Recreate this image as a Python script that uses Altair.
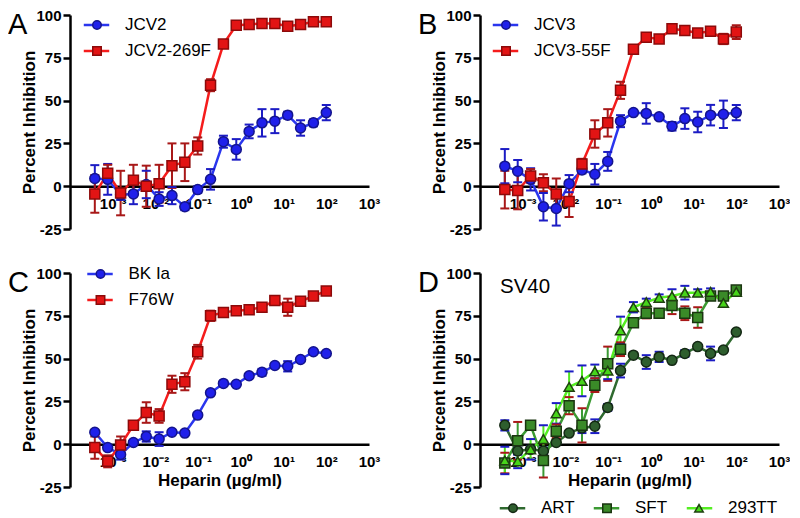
import altair as alt
import pandas as pd

FONT = "Liberation Sans"

# Heparin concentrations (ug/ml), two-fold dilutions, ascending
CONC = [0.000381, 0.000763, 0.00153, 0.00305, 0.0061, 0.0122, 0.0244, 0.0488,
        0.0977, 0.195, 0.391, 0.781, 1.5625, 3.125, 6.25, 12.5, 25, 50, 100]

X_TICKS = [0.001, 0.01, 0.1, 1, 10, 100, 1000]
Y_TICKS = [-25, 0, 25, 50, 75, 100]

# Panel A
A_NAMES = ["JCV2", "JCV2-269F"]
A_JCV2 = [4.5, 4.0, -5.0, -4.5, 1.0, -7.5, -5.5, -12.0, -2.0, 4.0, 26.0, 21.5, 32.0, 37.0, 38.0, 41.5, 34.0, 37.0, 43.0]
A_JCV2_ERR = [7.8, 9.0, 3.0, 6.0, 8.0, 4.0, 5.0, 2.0, 2.0, 6.0, 3.5, 6.0, 4.0, 8.0, 7.0, 2.0, 4.5, 2.0, 4.5]
A_269F = [-4.5, 7.5, -4.0, 3.5, 0.0, 1.5, 12.0, 14.0, 23.5, 59.0, 83.0, 94.0, 94.5, 95.0, 95.0, 93.5, 94.5, 96.0, 96.0]
A_269F_ERR = [11.0, 5.0, 13.0, 9.0, 12.0, 11.0, 13.0, 11.0, 5.0, 3.5, 1.0, 2.0, 2.5, 1.0, 1.0, 2.0, 1.0, 1.0, 1.0]

# Panel B
B_NAMES = ["JCV3", "JCV3-55F"]
B_JCV3 = [11.7, 8.8, 4.0, -12.0, -13.0, 1.5, 9.5, 7.0, 14.5, 38.0, 43.0, 42.5, 40.5, 35.0, 39.5, 37.5, 41.5, 42.0, 43.0]
B_JCV3_ERR = [10.0, 6.5, 6.5, 8.0, 10.0, 5.0, 2.0, 6.0, 5.5, 3.5, 1.0, 6.0, 1.0, 2.5, 6.0, 6.0, 6.0, 8.0, 4.5]
B_55F = [-2.0, -2.5, 6.0, 2.0, -4.5, -9.0, 13.0, 30.5, 37.0, 56.0, 80.0, 87.0, 86.0, 92.0, 91.0, 89.5, 90.5, 86.0, 90.0]
B_55F_ERR = [11.0, 11.0, 4.0, 5.0, 9.0, 9.0, 3.0, 8.0, 8.0, 5.0, 1.0, 1.0, 2.0, 1.0, 1.0, 2.0, 1.0, 3.0, 4.0]

# Panel C
C_NAMES = ["BK Ia", "F76W"]
C_BK = [7.0, -2.0, -6.0, 1.0, 4.5, 3.0, 7.0, 6.5, 17.0, 30.0, 35.5, 35.0, 40.0, 42.0, 46.0, 45.5, 49.5, 54.0, 53.0]
C_BK_ERR = [1.0, 1.0, 3.0, 1.0, 3.0, 4.0, 1.0, 1.0, 1.0, 1.0, 1.0, 1.0, 1.0, 2.0, 1.0, 3.0, 1.0, 1.0, 1.0]
C_F76W = [-2.0, -10.0, -0.5, 11.0, 18.5, 16.5, 35.0, 36.5, 54.0, 75.0, 77.0, 78.0, 78.5, 80.0, 84.0, 80.0, 83.5, 86.5, 89.5]
C_F76W_ERR = [6.5, 3.5, 5.0, 1.0, 6.0, 4.0, 5.0, 5.0, 4.0, 3.0, 1.0, 1.0, 1.0, 1.0, 1.0, 5.0, 1.0, 1.0, 1.0]

# Panel D (SV40)
D_NAMES = ["ART", "SFT", "293TT"]
D_ART = [11.0, -4.0, -3.0, -4.0, 1.0, 6.5, 9.5, 10.5, 21.5, 43.0, 52.0, 48.0, 51.0, 49.0, 53.0, 57.0, 53.0, 55.0, 65.5]
D_ART_ERR = [3.0, 2.0, 2.0, 2.0, 1.0, 1.0, 3.0, 4.0, 2.0, 4.0, 1.0, 4.0, 3.0, 1.0, 2.0, 1.0, 4.0, 1.0, 1.0]
D_SFT = [-11.0, 2.0, 11.0, -9.5, 7.5, 22.5, 11.0, 34.5, 47.0, 55.5, 71.0, 76.5, 76.5, 81.0, 76.5, 74.0, 86.5, 86.5, 90.0]
D_SFT_ERR = [6.0, 11.0, 2.0, 10.0, 4.0, 5.0, 10.0, 4.0, 10.0, 4.0, 2.0, 3.0, 2.0, 5.0, 4.0, 6.0, 2.0, 2.0, 2.0]
D_TT = [-9.5, -10.0, -3.0, 3.0, 18.0, 33.5, 37.0, 42.5, 43.0, 66.5, 80.0, 83.0, 85.5, 86.5, 88.5, 88.5, 89.0, 82.5, 89.0]
D_TT_ERR = [8.0, 4.0, 6.0, 8.0, 6.0, 9.0, 9.0, 4.0, 5.0, 8.0, 3.0, 2.0, 2.0, 4.0, 4.0, 2.0, 2.0, 2.0, 2.0]

BLUE = {"line": "#2a36ee", "fill": "#2020ea", "edge": "#14148c", "err": "#1c1cc4"}
RED = {"line": "#f51c1c", "fill": "#e21414", "edge": "#8c0a0a", "err": "#a81818"}
ART = {"line": "#2f6a2f", "fill": "#2e5e2e", "edge": "#142814", "err": "#2f6a2f"}
SFT = {"line": "#3b9a33", "fill": "#3a8a28", "edge": "#1a3510", "err": "#3a9a33"}
TT = {"line": "#55ee22", "fill": "#47d41a", "edge": "#1f4010", "err": "#52e620"}

X_LABELS = "['10\u207b\u00b3','10\u207b\u00b2','10\u207b\u00b9','10\u2070','10\u00b9','10\u00b2','10\u00b3'][round(log(datum.value)/LN10)+3]"

W, H = 299, 214


def make_df(names, vals, errs):
    rows = []
    for name, v, e in zip(names, vals, errs):
        for c, y, s in zip(CONC, v, e):
            rows.append({"conc": c, "value": y, "lo": y - s, "hi": y + s,
                         "series": name, "s_line": name})
    return pd.DataFrame(rows)


def panel(names, vals, errs, styles, shapes, letter, letter_x, lx, ly,
          horizontal=False, xtitle=None, note=None):
    df = make_df(names, vals, errs)
    base = alt.Chart(df)
    xscale = alt.Scale(type="log", domain=[1e-4, 1e3], nice=False)
    yscale = alt.Scale(domain=[-25, 100], nice=False, zero=False)
    xaxis = alt.Axis(values=X_TICKS, labelExpr=X_LABELS, offset=-H * 0.2, ticks=False,
                     tickSize=0, labelPadding=10, labelFontSize=15, labelFontWeight="bold",
                     labelFlush=False, labelOverlap=False, grid=False,
                     title=xtitle if xtitle else None, titleFontSize=17,
                     titleFontWeight="bold", titlePadding=3.5)
    yaxis = alt.Axis(values=Y_TICKS, labelExpr="'' + datum.value", title="Percent Inhibition",
                     tickSize=7, labelPadding=2, labelFontSize=15, labelFontWeight="bold",
                     labelFlush=False, grid=False, titleFontSize=17, titleFontWeight="bold",
                     titlePadding=-3)
    X = alt.X("conc:Q", scale=xscale, axis=xaxis)
    Y = alt.Y("value:Q", scale=yscale, axis=yaxis)
    Ylo = alt.Y("lo:Q", scale=yscale, axis=yaxis)
    Yhi = alt.Y("hi:Q", scale=yscale, axis=yaxis)

    common = dict(title=None, orient="none", legendX=lx, legendY=ly,
                  direction="horizontal" if horizontal else "vertical",
                  columns=len(names) if horizontal else 1,
                  symbolSize=72, labelFontSize=17, labelFont=FONT, labelColor="black",
                  rowPadding=8, columnPadding=13, padding=0)
    line_legend = alt.Legend(symbolType="M-3,0H3", symbolStrokeWidth=2.5, symbolOffset=8,
                             labelOffset=20, zindex=0, **common)
    pt_legend = alt.Legend(symbolStrokeWidth=1.5, symbolOffset=8.5, labelOffset=21,
                           labelOpacity=0, zindex=1, **common)

    lines = base.mark_line(strokeWidth=2.5).encode(
        x=X, y=Y,
        stroke=alt.Stroke("s_line:N", scale=alt.Scale(domain=names, range=[s["line"] for s in styles]),
                          legend=line_legend))
    rules = base.mark_rule(strokeWidth=2).encode(
        x=X, y=Ylo, y2="hi:Q",
        stroke=alt.Stroke("series:N", scale=alt.Scale(domain=names, range=[s["err"] for s in styles]),
                          legend=None))
    cap_color = alt.Color("series:N", scale=alt.Scale(domain=names, range=[s["err"] for s in styles]),
                          legend=None)
    caps_lo = base.mark_tick(orient="horizontal", size=9, thickness=2, opacity=1).encode(x=X, y=Ylo, color=cap_color)
    caps_hi = base.mark_tick(orient="horizontal", size=9, thickness=2, opacity=1).encode(x=X, y=Yhi, color=cap_color)
    pts = base.mark_point(filled=True, size=100, strokeWidth=1.5, opacity=1).encode(
        x=X, y=Y,
        fill=alt.Fill("series:N", scale=alt.Scale(domain=names, range=[s["fill"] for s in styles]),
                      legend=pt_legend),
        stroke=alt.Stroke("series:N", scale=alt.Scale(domain=names, range=[s["edge"] for s in styles]),
                          legend=pt_legend),
        shape=alt.Shape("series:N", scale=alt.Scale(domain=names, range=shapes), legend=pt_legend))

    letter_layer = alt.Chart(pd.DataFrame({"t": [letter]})).mark_text(
        align="left", baseline="alphabetic", fontSize=29, font=FONT, color="black"
    ).encode(x=alt.value(letter_x), y=alt.value(19), text="t:N")
    layers = [lines, rules, caps_lo, caps_hi, pts, letter_layer]
    if note:
        layers.append(alt.Chart(pd.DataFrame({"t": [note]})).mark_text(
            align="left", baseline="alphabetic", fontSize=20.5, font=FONT, color="black"
        ).encode(x=alt.value(20), y=alt.value(20), text="t:N"))
    return alt.layer(*layers).properties(width=W, height=H).resolve_scale(
        stroke="independent", fill="independent", shape="independent")


pA = panel(A_NAMES, [A_JCV2, A_269F], [A_JCV2_ERR, A_269F_ERR], [BLUE, RED],
           ["circle", "square"], "A", -62, 10, 1.5)
pB = panel(B_NAMES, [B_JCV3, B_55F], [B_JCV3_ERR, B_55F_ERR], [BLUE, RED],
           ["circle", "square"], "B", -62, 9, 1.5)
pC = panel(C_NAMES, [C_BK, C_F76W], [C_BK_ERR, C_F76W_ERR], [BLUE, RED],
           ["circle", "square"], "C", -62, 13.5, -7.5, xtitle="Heparin (\u00b5g/ml)")
pD = panel(D_NAMES, [D_ART, D_SFT, D_TT], [D_ART_ERR, D_SFT_ERR, D_TT_ERR], [ART, SFT, TT],
           ["circle", "square", "triangle-up"], "D", -62, 16, 226.5, horizontal=True,
           xtitle="Heparin (\u00b5g/ml)", note="SV40")

chart = alt.concat(pA, pB, pC, pD, columns=2, spacing={"row": 44, "column": 111},
                   bounds="flush").properties(padding=0).configure(
    font=FONT
).configure_view(stroke=None).configure_axis(
    domainColor="black", domainWidth=2.5, tickColor="black", tickWidth=2.5,
    labelColor="black", titleColor="black", labelFont=FONT, titleFont=FONT
)

chart.save("out.html", embed_options={"renderer": "svg", "actions": False})
